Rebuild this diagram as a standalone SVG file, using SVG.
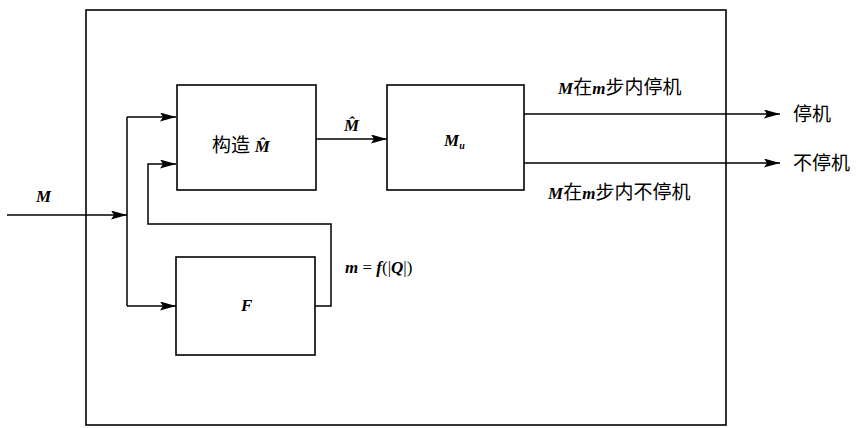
<svg xmlns="http://www.w3.org/2000/svg" width="856" height="428" viewBox="0 0 856 428">
<defs>
<marker id="ah" markerWidth="16" markerHeight="9" refX="16" refY="4.5" orient="auto" markerUnits="userSpaceOnUse">
<path d="M0,0 L16,4.5 L0,9 L3,4.5 Z" fill="#000"/>
</marker>
<style>
.box{fill:none;stroke:#000;stroke-width:1.6}
.ln{fill:none;stroke:#000;stroke-width:1.5}
.m{font-family:"Liberation Serif",serif;font-style:italic;font-weight:bold;font-size:17px}
.c{font-family:"Liberation Serif","Noto Sans CJK SC",serif;font-size:19px}
</style>
</defs>
<rect width="856" height="428" fill="#fff"/>
<g id="outer"><rect class="box" x="86" y="10" width="640" height="415"/></g>
<g id="construct">
<rect class="box" x="177" y="85" width="139" height="105"/>
<text class="c" x="212" y="152">构造 <tspan class="m" font-size="18">M&#x302;</tspan></text>
</g>
<g id="mu">
<rect class="box" x="387" y="85" width="137" height="105"/>
<text class="m" x="444" y="146">M<tspan font-size="10" dy="3">u</tspan></text>
</g>
<g id="f">
<rect class="box" x="176" y="257" width="139" height="98"/>
<text class="m" x="241" y="311">F</text>
</g>
<g id="connectors">
<path class="ln" d="M7,215 H127" marker-end="url(#ah)"/>
<path class="ln" d="M127,117 V306"/>
<path class="ln" d="M127,117 H176" marker-end="url(#ah)"/>
<path class="ln" d="M127,306 H176" marker-end="url(#ah)"/>
<path class="ln" d="M315,306 H331 V224 H148 V164 H176" marker-end="url(#ah)"/>
<path class="ln" d="M316,139 H387" marker-end="url(#ah)"/>
<path class="ln" d="M524,114 H780" marker-end="url(#ah)"/>
<path class="ln" d="M524,163 H780" marker-end="url(#ah)"/>
</g>
<g id="labels">
<text class="m" x="36" y="202">M</text>
<text class="m" x="344" y="131">M&#x302;</text>
<text class="c" x="558" y="94"><tspan class="m" font-size="18">M</tspan>在<tspan class="m" font-size="18">m</tspan>步内停机</text>
<text class="c" x="548" y="199"><tspan class="m" font-size="18">M</tspan>在<tspan class="m" font-size="18">m</tspan>步内不停机</text>
<text class="c" x="793" y="121">停机</text>
<text class="c" x="793" y="170">不停机</text>
<text class="m" x="345" y="273" font-size="16">m <tspan font-style="normal" font-weight="normal">=</tspan> f<tspan font-style="normal" font-weight="normal">(|</tspan>Q<tspan font-style="normal" font-weight="normal">|)</tspan></text>
</g>
</svg>
